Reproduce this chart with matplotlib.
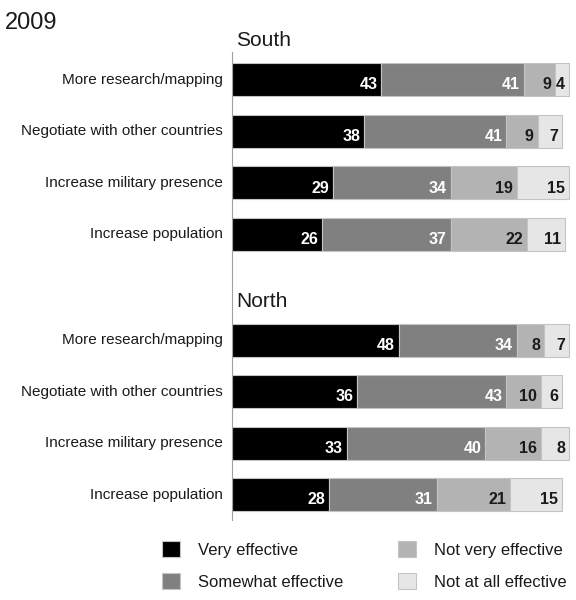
import numpy as np
import matplotlib.pyplot as plt
from matplotlib.patches import Patch

plt.rcParams['font.family'] = ['Liberation Sans Narrow', 'Liberation Sans', 'DejaVu Sans']

categories = ["More research/mapping", "Negotiate with other countries",
              "Increase military presence", "Increase population"]
series = ["Very effective", "Somewhat effective", "Not very effective", "Not at all effective"]

south_very = [43, 38, 29, 26]
south_somewhat = [41, 41, 34, 37]
south_notvery = [9, 9, 19, 22]
south_notatall = [4, 7, 15, 11]

north_very = [48, 36, 33, 28]
north_somewhat = [34, 43, 40, 31]
north_notvery = [8, 10, 16, 21]
north_notatall = [7, 6, 8, 15]

colors = ["#000000", "#808080", "#b3b3b3", "#e6e6e6"]
text_colors = ["white", "white", "#1a1a1a", "#1a1a1a"]

fig = plt.figure(figsize=(5.76, 6.0), dpi=100)
ax = fig.add_axes([232 / 576, 80 / 600, 342 / 576, 468 / 600])

groups = [
    ("South", np.arange(4) + 0.0, [south_very, south_somewhat, south_notvery, south_notatall]),
    ("North", np.arange(4) + 5.05, [north_very, north_somewhat, north_notvery, north_notatall]),
]

for name, ypos, vals in groups:
    left = np.zeros(4)
    for i, v in enumerate(vals):
        v = np.array(v, dtype=float)
        ax.barh(ypos, v, left=left, height=0.64, color=colors[i],
                edgecolor="#c4c4c4", linewidth=0.8)
        for y, l, w in zip(ypos, left, v):
            ax.text(l + w - 1.1, y + 0.1, f"{int(w)}", ha="right", va="center",
                    color=text_colors[i], fontsize=11.5, fontweight="bold")
        left += v
    for y, c in zip(ypos, categories):
        ax.text(-2.6, y, c, ha="right", va="center", fontsize=11, color="#1a1a1a")
    ax.text(1.2, ypos[0] - 0.57, name, ha="left", va="bottom", fontsize=15,
            color="#1a1a1a")

ax.set_xlim(0, 98.5)
ax.set_ylim(8.54, -0.54)
for s in ["top", "right", "bottom"]:
    ax.spines[s].set_visible(False)
ax.spines["left"].set_color("#a0a0a0")
ax.spines["left"].set_linewidth(0.8)
ax.set_xticks([])
ax.set_yticks([])

fig.text(5 / 576, 1 - 23 / 600, "2009", ha="left", va="center", fontsize=17, color="#1a1a1a")

handles = [Patch(facecolor=c, edgecolor="#c4c4c4", linewidth=0.8) for c in colors]
leg_kw = dict(loc="lower left", frameon=False, fontsize=12, handlelength=1.1,
              handleheight=1.1, handletextpad=1.05, labelspacing=0.95,
              borderpad=0, borderaxespad=0)
leg1 = fig.legend(handles[:2], series[:2], bbox_to_anchor=(162 / 576, 10 / 600), **leg_kw)
leg2 = fig.legend(handles[2:], series[2:], bbox_to_anchor=(398 / 576, 10 / 600), **leg_kw)
for leg in (leg1, leg2):
    for t in leg.get_texts():
        t.set_color("#1a1a1a")

fig.savefig("out.png", dpi=100)
